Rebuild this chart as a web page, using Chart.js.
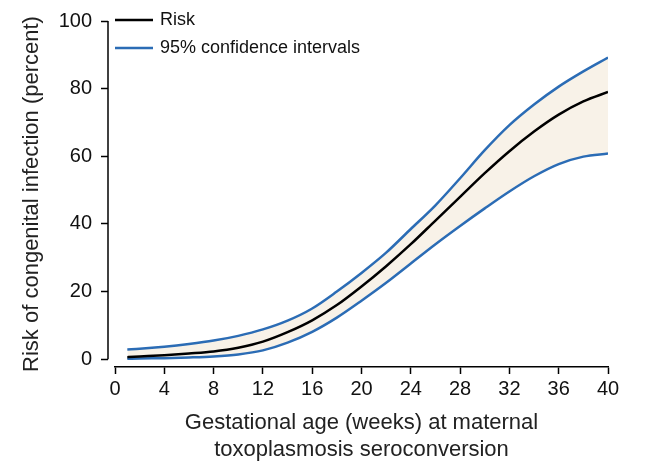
<!DOCTYPE html>
<html>
<head>
<meta charset="utf-8">
<script src="https://cdn.jsdelivr.net/npm/chart.js@4.4.1/dist/chart.umd.min.js"></script>
<style>
  html, body { margin: 0; padding: 0; background: #fff; }
  #wrap { width: 649px; height: 467px; }
</style>
</head>
<body>
<div id="wrap"><canvas id="riskChart"></canvas></div>
<script>
// gestational age (weeks)
const weeks = [1, 2, 4, 6, 8, 10, 12, 14, 16, 18, 20, 22, 24, 26, 28, 30, 32, 34, 36, 38, 40];
// risk of congenital infection (%)
const risk  = [0.6, 0.8, 1.2, 1.7, 2.3, 3.4, 5.2, 8, 11.5, 16, 21.5, 27.5, 34, 41, 48, 55, 61.5, 67.3, 72.3, 76.2, 79];
const upper = [2.9, 3.1, 3.7, 4.5, 5.5, 6.9, 8.8, 11.4, 15, 20, 25.5, 31.5, 38.5, 45.5, 53.5, 61.8, 69.2, 75.3, 80.6, 85.1, 89.2];
const lower = [0.1, 0.2, 0.3, 0.5, 0.8, 1.4, 2.6, 4.9, 8.1, 12.3, 17.3, 22.6, 28.3, 34, 39.4, 44.6, 49.6, 54.1, 57.7, 59.9, 60.8];

const xTicks = [0, 4, 8, 12, 16, 20, 24, 28, 32, 36, 40];
const yTicks = [0, 20, 40, 60, 80, 100];

const legendLabels = ["Risk", "95% confidence intervals"];
const legendColors = ["#000000", "#2b6cb5"];

const FONT = "'Liberation Sans', Arial, Helvetica, sans-serif";

const toPoints = (ys) => weeks.map((w, i) => ({ x: w, y: ys[i] }));

// y axis line (detached from x axis) + legend
const extras = {
  id: "extras",
  afterDraw(chart) {
    const ctx = chart.ctx;
    const y = chart.scales.y;
    const x0 = 108;
    ctx.save();
    ctx.strokeStyle = "#000";
    ctx.lineWidth = 1.5;
    ctx.beginPath();
    ctx.moveTo(x0, y.getPixelForValue(yTicks[0]));
    ctx.lineTo(x0, y.getPixelForValue(yTicks[yTicks.length - 1]));
    ctx.stroke();

    // legend
    ctx.font = "18px " + FONT;
    ctx.textBaseline = "middle";
    legendLabels.forEach((lab, i) => {
      const ly = 20 + i * 28;
      ctx.strokeStyle = legendColors[i];
      ctx.lineWidth = 2.5;
      ctx.beginPath();
      ctx.moveTo(115, ly);
      ctx.lineTo(153, ly);
      ctx.stroke();
      ctx.fillStyle = "#111";
      ctx.fillText(lab, 160, ly);
    });
    ctx.restore();
  }
};

const lineDefaults = {
  pointRadius: 0,
  borderWidth: 2.5,
  cubicInterpolationMode: "monotone"
};

const ctx = document.getElementById("riskChart").getContext("2d");
new Chart(ctx, {
  type: "line",
  data: {
    datasets: [
      Object.assign({
        label: "Risk",
        data: toPoints(risk),
        borderColor: "#000",
        fill: false
      }, lineDefaults),
      Object.assign({
        label: "95% confidence intervals",
        data: toPoints(upper),
        borderColor: "#2b6cb5",
        backgroundColor: "#f8f2e8",
        fill: 2
      }, lineDefaults),
      Object.assign({
        label: "lower",
        data: toPoints(lower),
        borderColor: "#2b6cb5",
        fill: false
      }, lineDefaults)
    ]
  },
  options: {
    responsive: true,
    maintainAspectRatio: false,
    animation: false,
    layout: { padding: { left: 0, right: 41, top: 13, bottom: 0 } },
    plugins: {
      legend: { display: false },
      tooltip: { enabled: false },
      filler: { drawTime: "beforeDatasetsDraw" }
    },
    scales: {
      x: {
        type: "linear",
        min: 0,
        max: 40,
        afterFit: (s) => { s.height = 100; },
        afterBuildTicks: (s) => { s.ticks = xTicks.map(v => ({ value: v })); },
        grid: { drawOnChartArea: false, drawTicks: true, tickLength: 7, tickColor: "#000", tickWidth: 1.5 },
        border: { display: true, color: "#000", width: 1.5 },
        ticks: { color: "#111", font: { family: FONT, size: 20 }, padding: 3, maxRotation: 0 },
        title: {
          display: true,
          text: ["Gestational age (weeks) at maternal", "toxoplasmosis seroconversion"],
          color: "#222",
          font: { family: FONT, size: 22 },
          padding: { top: 0, bottom: 4 }
        }
      },
      y: {
        type: "linear",
        min: -2.31,
        max: 100,
        afterFit: (s) => { s.width = 115; },
        afterBuildTicks: (s) => { s.ticks = yTicks.map(v => ({ value: v })); },
        grid: { drawOnChartArea: false, drawTicks: true, tickLength: 14, tickColor: "#000", tickWidth: 1.5, tickBorderDash: [7, 20] },
        border: { display: false },
        ticks: { color: "#111", font: { family: FONT, size: 20 }, padding: 9 },
        title: {
          display: true,
          text: "Risk of congenital infection (percent)",
          color: "#222",
          font: { family: FONT, size: 22 },
          padding: { top: 19, bottom: 0 }
        }
      }
    }
  },
  plugins: [extras]
});
</script>
</body>
</html>
